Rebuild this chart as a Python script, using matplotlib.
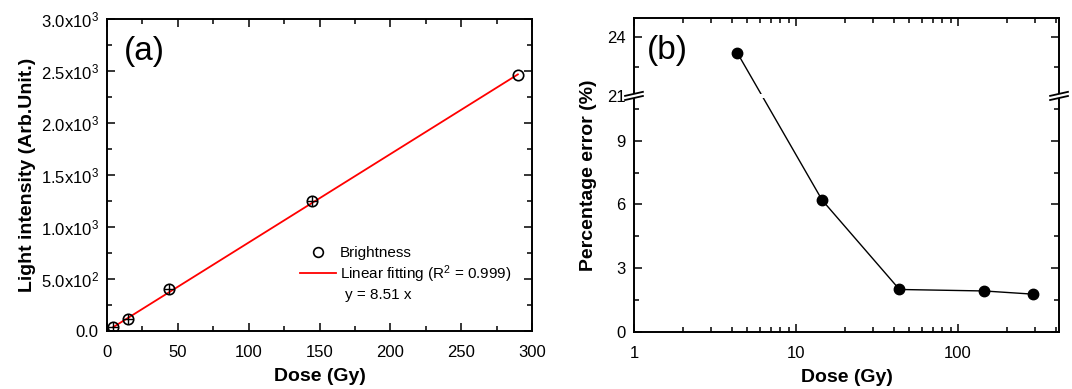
import numpy as np
import matplotlib
matplotlib.use("Agg")
import matplotlib.pyplot as plt
from matplotlib.ticker import MultipleLocator, FixedLocator, FuncFormatter, LogLocator
from matplotlib.patches import Rectangle
from matplotlib.lines import Line2D

plt.rcParams["font.family"] = ["Liberation Sans", "DejaVu Sans"]
plt.rcParams["mathtext.fontset"] = "custom"
plt.rcParams["mathtext.rm"] = "Liberation Sans"
plt.rcParams["mathtext.it"] = "Liberation Sans:italic"
plt.rcParams["mathtext.bf"] = "Liberation Sans:bold"

# data
dose = [4.35, 14.5, 43.5, 145, 290]
brightness = [35, 120, 400, 1250, 2460]
slope = 8.51
pct_error = [23.2, 6.2, 2.0, 1.93, 1.78]

# broken y axis of panel (b)
BREAK_LO, BREAK_HI, Y_TOP, K_UP = 11.1, 21.0, 25.0, 0.916

fig = plt.figure(figsize=(10.72, 3.89), dpi=100)
axa = fig.add_axes([0.0998, 0.149, 0.3965, 0.802])
axb = fig.add_axes([0.5914, 0.1465, 0.3965, 0.8072])


def style(ax):
    ax.tick_params(which="both", direction="in", top=True, right=True,
                   labelsize=12, width=1.1)
    ax.tick_params(axis="x", which="both", pad=10)
    ax.tick_params(axis="y", which="both", pad=6)
    ax.tick_params(which="major", length=6)
    ax.tick_params(which="minor", length=3.5)
    for sp in ax.spines.values():
        sp.set_linewidth(1.4)


# ---- panel (a)
style(axa)
axa.plot(dose, brightness, "o", ms=7.5, mfc="none", mec="black", mew=1.2, zorder=4)
axa.plot(dose[:-1], brightness[:-1], "+", ms=7.5, color="black", mew=1.0, zorder=4)
fx = np.array([dose[0], dose[-1]])
axa.plot(fx, slope * fx, color="red", lw=1.3, zorder=3)
axa.set_xlim(0, 300)
axa.set_ylim(0, 3000)
axa.xaxis.set_major_locator(MultipleLocator(50))
axa.xaxis.set_minor_locator(MultipleLocator(25))
axa.yaxis.set_major_locator(MultipleLocator(500))
axa.yaxis.set_minor_locator(MultipleLocator(250))


def sci(v, pos):
    if v == 0:
        return "0.0"
    e = int(np.floor(np.log10(abs(v)) + 1e-9))
    return f"{v / 10**e:.1f}x10$^{{{e}}}$"


axa.yaxis.set_major_formatter(FuncFormatter(sci))
axa.set_xlabel("Dose (Gy)", fontsize=14, fontweight="bold", labelpad=6)
axa.set_ylabel("Light intensity (Arb.Unit.)", fontsize=14, fontweight="bold", labelpad=3)
axa.text(0.04, 0.945, "(a)", transform=axa.transAxes, fontsize=24, va="top", ha="left")

handles = [Line2D([], [], ls="none", marker="o", ms=7, mfc="none", mec="black", mew=1.2),
           Line2D([], [], color="red", lw=1.3)]
axa.legend(handles, ["Brightness", "Linear fitting (R$^2$ = 0.999)"],
           loc="upper left", bbox_to_anchor=(0.455, 0.272), frameon=False,
           fontsize=11, handlelength=2.3, handletextpad=0.3, labelspacing=0.2,
           borderpad=0, borderaxespad=0)
axa.text(0.56, 0.115, "y = 8.51 x", transform=axa.transAxes, fontsize=11,
         va="center", ha="left")


# ---- panel (b)
def fwd(y):
    y = np.asarray(y, dtype=float)
    return np.where(y <= BREAK_LO, y,
                    np.where(y >= BREAK_HI, BREAK_LO + (y - BREAK_HI) * K_UP, BREAK_LO))


def inv(t):
    t = np.asarray(t, dtype=float)
    return np.where(t <= BREAK_LO, t, BREAK_HI + (t - BREAK_LO) / K_UP)


style(axb)
axb.set_xscale("log")
axb.set_yscale("function", functions=(fwd, inv))
axb.plot(dose, pct_error, "-", color="black", lw=1.0, zorder=2)
axb.plot(dose, pct_error, "o", ms=7.5, color="black", zorder=4)
axb.set_xlim(1, 420)
axb.set_ylim(0, Y_TOP)
axb.xaxis.set_major_locator(LogLocator(base=10))
axb.xaxis.set_minor_locator(LogLocator(base=10, subs=np.arange(2, 10)))
axb.xaxis.set_major_formatter(FuncFormatter(lambda v, p: f"{v:g}"))
axb.xaxis.set_minor_formatter(FuncFormatter(lambda v, p: ""))
axb.yaxis.set_major_locator(FixedLocator([0, 3, 6, 9, 21, 24]))
axb.yaxis.set_minor_locator(FixedLocator([1.5, 4.5, 7.5, 10.5, 22.5]))
axb.yaxis.set_major_formatter(FuncFormatter(lambda v, p: f"{v:g}"))
for t in axb.yaxis.get_major_ticks():
    if abs(t.get_loc() - 21) < 1e-6:
        t.tick1line.set_visible(False)
        t.tick2line.set_visible(False)
axb.set_xlabel("Dose (Gy)", fontsize=14, fontweight="bold", labelpad=6)
axb.set_ylabel("Percentage error (%)", fontsize=14, fontweight="bold", labelpad=7)
axb.text(0.03, 0.945, "(b)", transform=axb.transAxes, fontsize=24, va="top", ha="left")

# break marks
yb = BREAK_LO / (BREAK_LO + (Y_TOP - BREAK_HI) * K_UP)
dx, dy, sep = 0.021, 0.0064, 0.0066
axb.add_patch(Rectangle((0, yb - 0.006), 1, 0.012, transform=axb.transAxes,
                        color="white", lw=0, zorder=2.2))
for x0 in (0.0, 1.0):
    axb.add_patch(Rectangle((x0 - 0.006, yb - sep), 0.012, 2 * sep,
                            transform=axb.transAxes, color="white", lw=0,
                            zorder=5, clip_on=False))
    for s in (-sep, sep):
        axb.add_line(Line2D([x0 - dx, x0 + dx], [yb + s - dy, yb + s + dy],
                            transform=axb.transAxes, color="black", lw=1.3,
                            zorder=6, clip_on=False))

fig.savefig("out.png", dpi=100)
